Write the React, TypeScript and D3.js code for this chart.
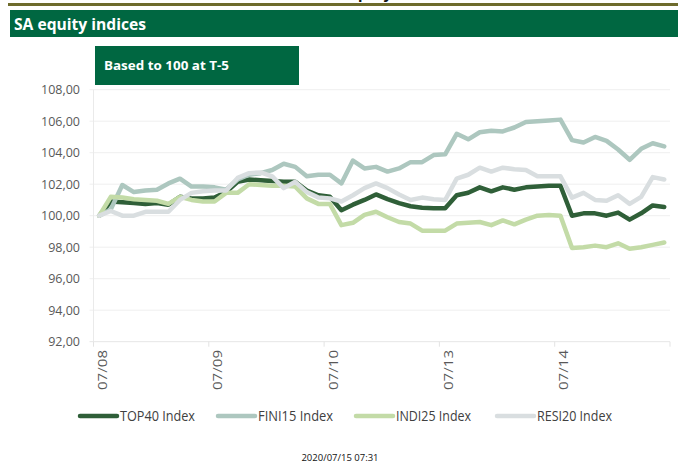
import React, { useEffect, useRef } from 'react';
import * as d3 from 'd3';

// trading days shown on the axis, 10 intraday points per day
const days = ['07/08', '07/09', '07/10', '07/13', '07/14'];
const pointsPerDay = 10;

const yTicks = [92, 94, 96, 98, 100, 102, 104, 106, 108];

const top40 = [
  100, 100.9, 100.85, 100.8, 100.75, 100.8, 100.7, 101.2, 101.1, 101.1,
  101.15, 101.5, 102.15, 102.3, 102.25, 102.2, 102.15, 102.15, 101.6, 101.3,
  101.2, 100.35, 100.7, 101.0, 101.35, 101.05, 100.8, 100.6, 100.5, 100.47,
  100.47, 101.3, 101.46, 101.8, 101.55, 101.8, 101.65, 101.8, 101.85, 101.9,
  101.9, 100.0, 100.15, 100.15, 100.0, 100.2, 99.75, 100.15, 100.65, 100.55
];

const fini15 = [
  100, 100.4, 101.95, 101.5, 101.6, 101.65, 102.05, 102.35, 101.85, 101.85,
  101.8, 101.65, 102.3, 102.6, 102.7, 102.9, 103.3, 103.1, 102.5, 102.6,
  102.6, 102.05, 103.5, 103.0, 103.1, 102.8, 103.0, 103.4, 103.4, 103.85,
  103.9, 105.2, 104.85, 105.3, 105.4, 105.35, 105.6, 105.95, 106.0, 106.05,
  106.1, 104.8, 104.65, 105.0, 104.75, 104.2, 103.55, 104.25, 104.6, 104.4
];

const indi25 = [
  100, 101.2, 101.15, 101.05, 101.0, 100.95, 100.75, 101.2, 101.0, 100.9,
  100.9, 101.45, 101.45, 102.0, 101.95, 101.9, 101.9, 101.85, 101.1, 100.75,
  100.75, 99.4, 99.55, 100.05, 100.25, 99.9, 99.6, 99.5, 99.05, 99.05,
  99.05, 99.5, 99.55, 99.6, 99.4, 99.7, 99.45, 99.75, 100.0, 100.05,
  100.0, 97.95, 98.0, 98.1, 98.0, 98.25, 97.9, 98.0, 98.15, 98.3
];

const resi20 = [
  100, 100.3, 100.0, 100.0, 100.25, 100.25, 100.25, 101.0, 101.45, 101.55,
  101.6, 101.6, 102.4, 102.7, 102.75, 102.5, 101.75, 102.15, 101.5, 101.15,
  101.1, 100.9, 101.3, 101.75, 102.05, 101.75, 101.35, 101.0, 101.15, 101.05,
  101.0, 102.35, 102.6, 103.05, 102.8, 103.05, 102.95, 102.9, 102.5, 102.5,
  102.5, 101.15, 101.45, 101.0, 100.95, 101.3, 100.75, 101.2, 102.45, 102.3
];

const seriesNames = ['TOP40 Index', 'FINI15 Index', 'INDI25 Index', 'RESI20 Index'];
const seriesValues = [top40, fini15, indi25, resi20];
const seriesColors = ['#2f5f38', '#adc7bf', '#c3dba7', '#d9dee0'];

const W = 678, H = 465;
const FONT = '"Open Sans", "Noto Sans", sans-serif';

export default function App() {
  const ref = useRef<SVGSVGElement>(null);

  useEffect(() => {
    const svg = d3.select(ref.current);
    svg.selectAll('*').remove();

    // page furniture
    svg.append('rect').attr('x', 8).attr('y', 3).attr('width', W - 8).attr('height', 3).attr('fill', '#6e6b2c');
    svg.append('text')
      .attr('x', 368).attr('y', -1).attr('text-anchor', 'middle')
      .attr('font-family', FONT).attr('font-weight', 700)
      .attr('font-size', 15).attr('fill', '#111').text('equity');
    svg.append('rect').attr('x', 10).attr('y', 10).attr('width', W - 10).attr('height', 27).attr('fill', '#006741');
    svg.append('text')
      .attr('x', 14).attr('y', 30)
      .attr('font-family', FONT).attr('font-weight', 700)
      .attr('font-size', 16).attr('fill', '#fff')
      .attr('textLength', 132).attr('lengthAdjust', 'spacingAndGlyphs')
      .text('SA equity indices');

    const n = days.length * pointsPerDay;
    const idx = d3.range(n);
    const x = d3.scaleBand<number>().domain(idx).range([93.5, 670]);
    const y = d3.scaleLinear().domain([92, 108]).range([341.7, 89.7]);
    const cx = (i: number) => (x(i) as number) + x.bandwidth() / 2;

    // gridlines
    svg.append('g').selectAll('line').data(yTicks).enter().append('line')
      .attr('x1', 89.5).attr('x2', 670)
      .attr('y1', d => y(d)).attr('y2', d => y(d))
      .attr('stroke', d => d === 92 ? '#e6e6e6' : '#efefef').attr('stroke-width', 1);
    svg.append('line').attr('x1', 93.5).attr('x2', 93.5).attr('y1', y(108)).attr('y2', y(92))
      .attr('stroke', '#eaeaea');

    svg.append('g').selectAll('text').data(yTicks).enter().append('text')
      .attr('x', 80).attr('y', d => y(d)).attr('dy', '0.35em').attr('text-anchor', 'end')
      .attr('font-family', FONT).attr('font-size', 12.5).attr('fill', '#595959')
      .text(d => d3.format('.2f')(d).replace('.', ','));

    // category ticks & labels
    const dayStarts = days.map((_, k) => k * pointsPerDay);
    svg.append('g').selectAll('line').data([...dayStarts, n]).enter().append('line')
      .attr('x1', d => d < n ? (x(d) as number) : 670).attr('x2', d => d < n ? (x(d) as number) : 670)
      .attr('y1', y(92)).attr('y2', y(92) + 5)
      .attr('stroke', '#e3e3e3');
    svg.append('g').selectAll('text').data(days).enter().append('text')
      .attr('transform', (d, k) => `translate(${(x(dayStarts[k]) as number) + 9},350) rotate(-90)`)
      .attr('text-anchor', 'end').attr('dy', '0.35em')
      .attr('font-family', FONT).attr('font-size', 13).attr('fill', '#595959')
      .attr('textLength', 40).attr('lengthAdjust', 'spacingAndGlyphs')
      .text(d => d);

    // series
    const line = d3.line<number>().x((_, i) => cx(i)).y(d => y(d)).curve(d3.curveLinear);
    seriesValues.forEach((vals, s) => {
      svg.append('path').datum(vals)
        .attr('d', line)
        .attr('fill', 'none').attr('stroke', seriesColors[s]).attr('stroke-width', 4.5)
        .attr('stroke-linejoin', 'round').attr('stroke-linecap', 'round');
    });

    // subtitle box
    svg.append('rect').attr('x', 95).attr('y', 46).attr('width', 204).attr('height', 39).attr('fill', '#006741');
    svg.append('text').attr('x', 104).attr('y', 70)
      .attr('font-family', FONT).attr('font-weight', 700)
      .attr('font-size', 13).attr('fill', '#fff')
      .attr('textLength', 125).attr('lengthAdjust', 'spacingAndGlyphs')
      .text('Based to 100 at T-5');

    // legend
    const legendX = [80, 218, 356, 497];
    const lg = svg.append('g').selectAll('g').data(seriesNames).enter().append('g')
      .attr('transform', (_, k) => `translate(${legendX[k]},416)`);
    lg.append('line').attr('x1', 0).attr('x2', 37).attr('y1', 0).attr('y2', 0)
      .attr('stroke', (_, k) => seriesColors[k]).attr('stroke-width', 4.5).attr('stroke-linecap', 'round');
    lg.append('text').attr('x', 40).attr('dy', '0.35em')
      .attr('font-family', FONT).attr('font-size', 14).attr('fill', '#404040')
      .attr('textLength', 75).attr('lengthAdjust', 'spacingAndGlyphs')
      .text(d => d);

    svg.append('text').attr('x', 340).attr('y', 461).attr('text-anchor', 'middle')
      .attr('font-family', FONT).attr('font-size', 9.5).attr('fill', '#111')
      .text('2020/07/15 07:31');
  }, []);

  return (
    <svg ref={ref} width={W} height={H}
      style={{ position: 'absolute', left: 0, top: 0, background: '#fff' }} />
  );
}
